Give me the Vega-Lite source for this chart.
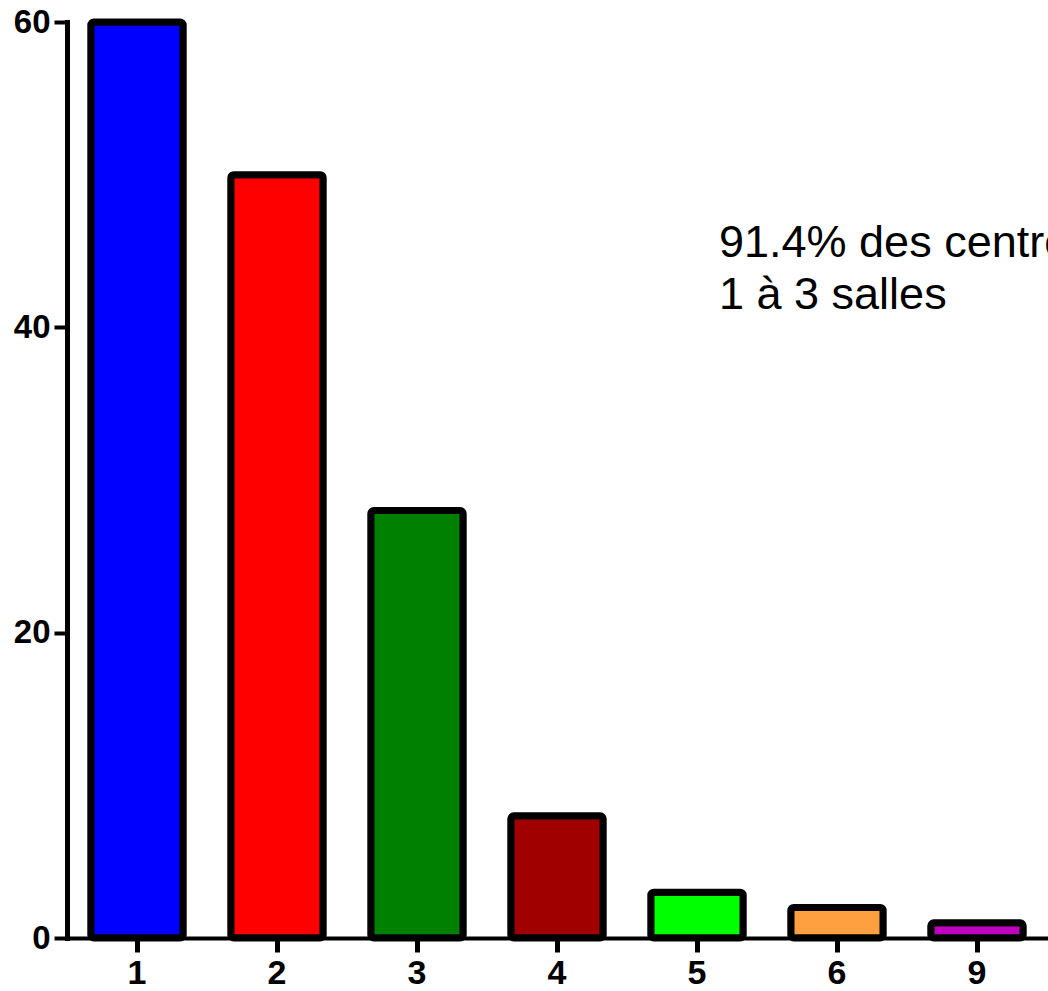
{
  "$schema": "https://vega.github.io/schema/vega-lite/v6.json",
  "autosize": {"type": "none"},
  "width": 980,
  "height": 916,
  "padding": {"left": 67, "top": 22, "right": 1, "bottom": 53},
  "background": "white",
  "config": {"view": {"stroke": null}, "font": "Liberation Sans"},
  "datasets": {
    "bars": [
      {"salles": "1", "n": 60, "color": "#0000FF"},
      {"salles": "2", "n": 50, "color": "#FF0000"},
      {"salles": "3", "n": 28, "color": "#008000"},
      {"salles": "4", "n": 8, "color": "#A00000"},
      {"salles": "5", "n": 3, "color": "#00FF00"},
      {"salles": "6", "n": 2, "color": "#FFA040"},
      {"salles": "9", "n": 1, "color": "#C000C0"}
    ],
    "note": [
      {"salles": "5", "n": 44.6, "label": "91.4% des centres ont\n1 à 3 salles"}
    ]
  },
  "layer": [
    {
      "data": {"name": "bars"},
      "mark": {"type": "bar", "stroke": "black", "strokeWidth": 7, "cornerRadius": 3, "strokeJoin": "round"},
      "encoding": {
        "x": {
          "field": "salles", "type": "ordinal", "sort": null,
          "scale": {"paddingInner": 0.34, "paddingOuter": 0.17},
          "axis": {
            "title": null, "labelAngle": 0, "domainColor": "black", "domainWidth": 4,
            "tickColor": "black", "tickWidth": 5, "tickSize": 14,
            "labelFont": "Liberation Sans", "labelFontSize": 34, "labelFontWeight": "bold",
            "labelColor": "black", "labelPadding": 4, "domainCap": "square"
          }
        },
        "y": {
          "field": "n", "type": "quantitative",
          "scale": {"domain": [0, 60], "nice": false},
          "axis": {
            "title": null, "values": [0, 20, 40, 60], "grid": false,
            "domainColor": "black", "domainWidth": 5,
            "tickColor": "black", "tickWidth": 4, "tickSize": 13,
            "labelFont": "Liberation Sans", "labelFontSize": 33, "labelFontWeight": "bold",
            "labelColor": "black", "labelPadding": 4, "domainCap": "square"
          }
        },
        "color": {"field": "color", "type": "nominal", "scale": null, "legend": null}
      }
    },
    {
      "data": {"name": "note"},
      "mark": {"type": "text", "align": "left", "baseline": "alphabetic", "dx": 22, "fontSize": 45, "lineHeight": 52, "lineBreak": "\n", "font": "Liberation Sans", "color": "black"},
      "encoding": {
        "x": {"field": "salles", "type": "ordinal"},
        "y": {"field": "n", "type": "quantitative"},
        "text": {"field": "label"}
      }
    }
  ]
}
